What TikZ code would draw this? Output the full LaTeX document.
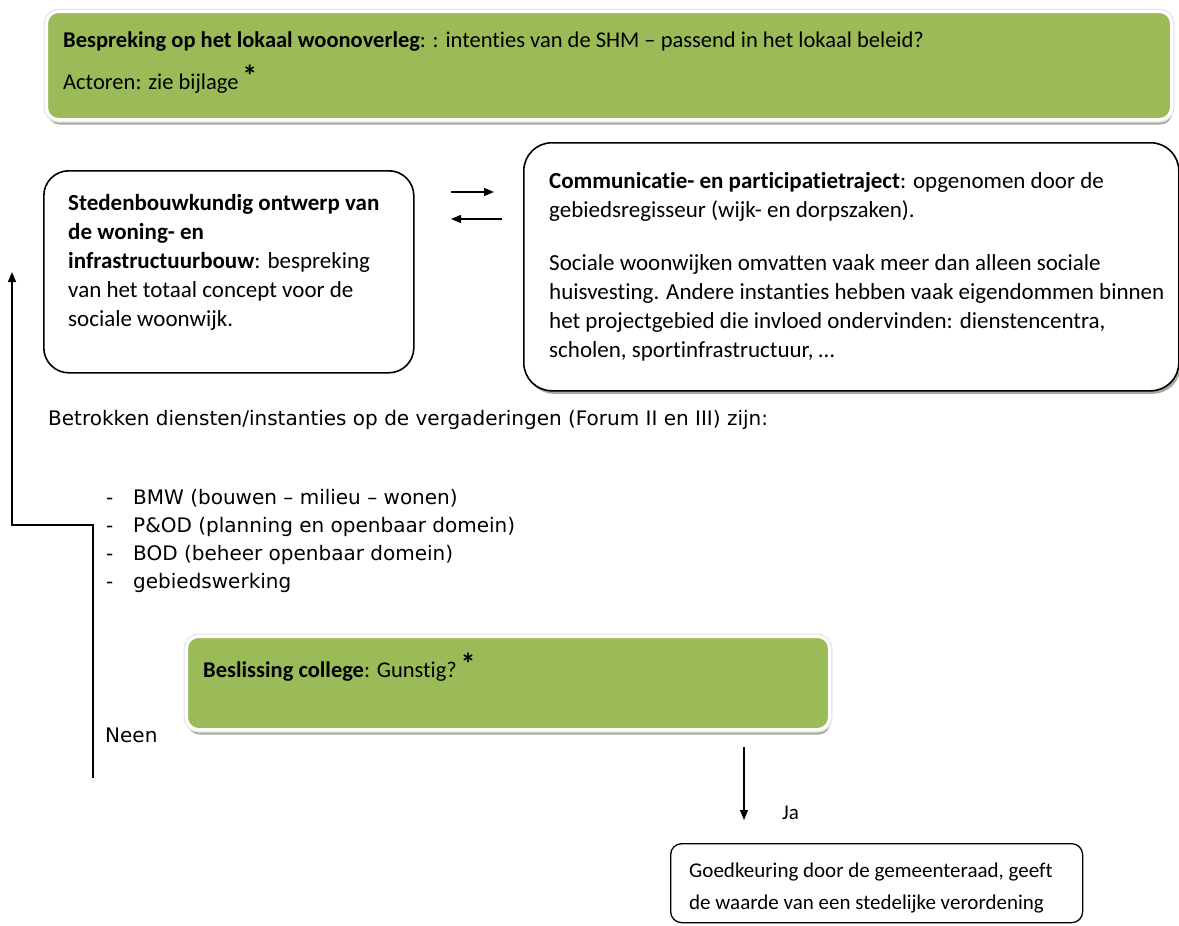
\documentclass[tikz,border=0pt]{standalone}
\usepackage{fontspec}
\setmainfont{Carlito}[Ligatures={TeX,NoCommon}]
\newfontfamily\verdfont[Ligatures=TeX]{DejaVu Sans}
\usetikzlibrary{arrows.meta,shadows,positioning}
\definecolor{overleggreen}{HTML}{9BBB59}
\definecolor{shadowgreen}{HTML}{A4AC99}
\newcommand{\boxfont}{\fontsize{23}{29}\selectfont}
\newcommand{\greenfont}{\fontsize{22.5}{29}\selectfont}
\newcommand{\listfont}{\verdfont\fontsize{20}{28}\selectfont}
\newcommand{\ster}{\,{\fontsize{30}{30}\selectfont\raisebox{3pt}{\textbf{*}}}}

\begin{document}
\begin{tikzpicture}[x=1pt,y=-1pt,
  greenbox/.style={fill=overleggreen,draw=white,line width=3pt,rounded corners=12pt,anchor=north west,
    drop shadow={shadow xshift=1pt,shadow yshift=-5pt,fill=shadowgreen,opacity=1},
    preaction={draw=black!9,line width=6pt}},
  whitebox/.style={draw=black,line width=1.6pt,fill=white,anchor=north west},
  boxtext/.style={anchor=base west,inner sep=0pt,align=left,font=\boxfont},
  plaintext/.style={anchor=base west,inner sep=0pt,font=\listfont},
  flow/.style={line width=1.3pt,-{Triangle[length=10pt,width=8pt]}}]
  \useasboundingbox (0,0) rectangle (1179,926);
  % boxes
  \node[greenbox,minimum width=1125pt,minimum height=108pt] (overleg) at (45,10) {};
  \node[whitebox,rounded corners=25pt,minimum width=370pt,minimum height=202pt] (ontwerp) at (43,170) {};
  \node[whitebox,rounded corners=28pt,minimum width=655pt,minimum height=248pt,
    drop shadow={shadow xshift=2pt,shadow yshift=-3pt,fill=shadowgreen,opacity=1}] (traject) at (523,142) {};
  \node[greenbox,minimum width=643pt,minimum height=93pt] (college) at (185,635) {};
  \node[whitebox,rounded corners=11pt,line width=1.3pt,minimum width=412pt,minimum height=79pt] (raad) at (670,843) {};
  % texts (anchored at the baseline of their last line)
  \node[boxtext,font=\greenfont] (overlegtxt) at (63,89) {\textbf{Bespreking op het lokaal woonoverleg}: : intenties van de SHM -- passend in het lokaal beleid?\\[13pt]
    Actoren: zie bijlage\ster};
  \node[boxtext] (ontwerptxt) at (68,326) {\textbf{Stedenbouwkundig ontwerp van}\\ \textbf{de woning- en}\\
    \textbf{infrastructuurbouw}: bespreking\\ van het totaal concept voor de\\ sociale woonwijk.};
  \node[boxtext] (trajecttxt) at (549,357) {\textbf{Communicatie- en participatietraject}: opgenomen door de\\
    gebiedsregisseur (wijk- en dorpszaken).\\[24pt]
    Sociale woonwijken omvatten vaak meer dan alleen sociale\\
    huisvesting. Andere instanties hebben vaak eigendommen binnen\\
    het projectgebied die invloed ondervinden: dienstencentra,\\
    scholen, sportinfrastructuur, \dots};
  \node[plaintext] (diensten) at (48,425) {Betrokken diensten/instanties op de vergaderingen (Forum II en III) zijn:};
  \foreach \y/\item [count=\i] in {504/BMW (bouwen -- milieu -- wonen),532/P\&OD (planning en openbaar domein),
      560/BOD (beheer openbaar domein),588/gebiedswerking}{
    \node[plaintext] (dash\i) at (106,\y) {-};
    \node[plaintext] (item\i) at (133,\y) {\item};
  }
  \node[boxtext,font=\greenfont] (collegetxt) at (203,677) {\textbf{Beslissing college}: Gunstig?\ster};
  \node[plaintext] (neen) at (105,742) {Neen};
  \node[boxtext,font=\fontsize{21}{29}\selectfont] (ja) at (782,819) {Ja};
  \node[boxtext,font=\fontsize{21}{29}\selectfont] (raadtxt) at (689,909) {Goedkeuring door de gemeenteraad, geeft\\[3pt] de waarde van een stedelijke verordening};
  % connectors
  \coordinate (heenstart) at (451,192);
  \coordinate (heeneind) at (494,192);
  \coordinate (terugstart) at (502,219);
  \coordinate (terugeind) at (451,219);
  \draw[flow] (heenstart) -- (heeneind);
  \draw[flow] (terugstart) -- (terugeind);
  \coordinate (jastart) at (744,747);
  \coordinate (jaeind) at (744,820);
  \draw[flow] (jastart) -- (jaeind);
  \coordinate (neenstart) at (93,778);
  \coordinate (neenhoek) at (12,525);
  \coordinate (neeneind) at (12,272);
  \draw[flow] (neenstart) |- (neenhoek) -- (neeneind);
\end{tikzpicture}
\end{document}
